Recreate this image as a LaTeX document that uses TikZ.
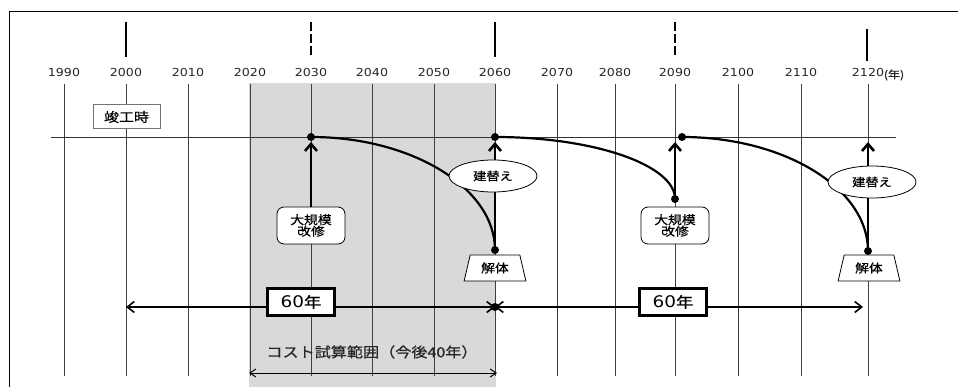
\documentclass[tikz,border=0pt]{standalone}
\usepackage{fontspec}
\setmainfont{DejaVu Sans}[FakeStretch=1.15]
\newfontfamily\jp{Noto Sans CJK JP}[FakeStretch=1.15, FakeBold=0.6]
\usetikzlibrary{arrows.meta, shapes.geometric}

\begin{document}
\begin{tikzpicture}[x=1pt, y=-1pt,
    range_fill/.style={fill=gray!30},
    frame_line/.style={black, line width=0.9pt},
    grid_line/.style={black!75, line width=0.8pt},
    base_line/.style={black!80, line width=0.7pt},
    top_mark/.style={black, line width=2pt},
    year_label/.style={font=\fontsize{11}{13}\selectfont, text=black!85},
    unit_label/.style={font=\jp\fontsize{10.5}{11}\selectfont, text=black!85},
    label_box/.style={draw=black!55, fill=white, line width=1pt, minimum width=67pt,
        minimum height=24pt, inner sep=0pt, font=\jp\fontsize{13}{13}\selectfont},
    kaishu_box/.style={draw, fill=white, rounded corners=7pt, line width=0.8pt,
        minimum width=68pt, minimum height=37pt, inner sep=0pt, align=center,
        font=\jp\fontsize{12}{11.5}\selectfont},
    kaitai_box/.style={trapezium, draw, fill=white, line width=0.8pt,
        trapezium left angle=73, trapezium right angle=73, trapezium stretches=true,
        minimum width=62pt, minimum height=26pt, inner sep=0pt,
        font=\jp\fontsize{12}{12}\selectfont},
    tatekae/.style={ellipse, draw, fill=white, line width=0.8pt, minimum width=88pt,
        minimum height=32pt, inner sep=0pt, font=\jp\fontsize{11.5}{11.5}\selectfont},
    span_box/.style={draw, fill=white, line width=2.5pt, minimum width=67pt,
        minimum height=27pt, inner sep=0pt, font=\fontsize{16}{16}\selectfont},
    range_label/.style={font=\jp\fontsize{14}{14}\selectfont, text=black!85},
    decay/.style={black, line width=2.2pt},
    event_arrow/.style={-{Straight Barb[length=7pt, width=12pt]}, line width=2.6pt, shorten >=5pt},
    span_arrow/.style={{Straight Barb[length=7pt, width=11pt]}-{Straight Barb[length=7pt, width=11pt]}, line width=1.6pt},
    range_arrow/.style={{Straight Barb[length=6pt, width=8pt]}-{Straight Barb[length=6pt, width=8pt]}, line width=1pt},
    dot/.style={circle, fill=black, inner sep=0pt, minimum size=8pt}
]
    \useasboundingbox (0,0) rectangle (958,387);
    % 背景
    \fill[range_fill] (249,83) rectangle (496,387);
    \draw[frame_line] (9,387) -- (9,11) -- (958,11);
    % 年の目盛り
    \foreach \yr/\x in {1990/64, 2000/126, 2010/188, 2020/250, 2030/311, 2040/372,
        2050/434, 2060/495, 2070/557, 2080/615, 2090/675, 2100/738, 2110/801, 2120/868}{
        \node[year_label] (y\yr) at (\x,72) {\yr};
        \coordinate (g\yr t) at (\x,84);
        \coordinate (g\yr b) at (\x,376);
        \draw[grid_line] (g\yr t) -- (g\yr b);
    }
    \node[unit_label] (unit) at (894,75) {(年)};
    % 基準線
    \coordinate (base_l) at (51,137);
    \coordinate (base_r) at (896,137);
    \draw[base_line] (base_l) -- (base_r);
    % 上の印
    \draw[top_mark] (126,22) -- ++(0,35);
    \draw[top_mark, dash pattern=on 9pt off 3pt] (311,22) -- ++(0,33);
    \draw[top_mark] (495,22) -- ++(0,35);
    \draw[top_mark, dash pattern=on 9pt off 3pt] (675,22) -- ++(0,33);
    \draw[top_mark] (867,29) -- ++(0,32);
    % 竣工時
    \node[label_box] (shunko) at (126.5,117) {竣工時};
    % 大規模改修と解体
    \node[kaishu_box] (kaishu1) at (311,225.5) {大規模\\改修};
    \node[kaishu_box] (kaishu2) at (675,225.5) {大規模\\改修};
    \node[kaitai_box] (kaitai1) at (495,268) {解体};
    \node[kaitai_box] (kaitai2) at (869,268) {解体};
    % 点
    \coordinate (p1) at (311,137);
    \coordinate (p2) at (495,137);
    \coordinate (p3) at (495,250);
    \coordinate (p4) at (675,199);
    \coordinate (p4t) at (675,137);
    \coordinate (p5) at (682,137);
    \coordinate (p6) at (868,251);
    \coordinate (p6t) at (868,137);
    % 劣化の曲線
    \draw[decay] (p1) .. controls +(101,0) and +(0,-62) .. (p3);
    \draw[decay] (p2) .. controls +(99,0) and +(0,-34) .. (p4);
    \draw[decay] (p5) .. controls +(102,0) and +(0,-63) .. (p6);
    % 矢印
    \draw[event_arrow] (kaishu1.north) -- (p1);
    \draw[event_arrow] (p3) -- (p2);
    \draw[event_arrow] (p4) -- (p4t);
    \draw[event_arrow] (p6) -- (p6t);
    % 建替え
    \node[tatekae] (tatekae1) at (493,176) {建替え};
    \node[tatekae] (tatekae2) at (872,182) {建替え};
    \foreach \p in {p1, p2, p3, p4, p5, p6}
        \node[dot] (\p d) at (\p) {};
    % 60年
    \coordinate (s1) at (126,307);
    \coordinate (s2) at (495,307);
    \coordinate (s3) at (863,307);
    \draw[span_arrow] (s1) -- (s2);
    \draw[span_arrow] (s2) -- (s3);
    \node[dot] (s2d) at (s2) {};
    \node[span_box] (span1) at (301,302) {60{\jp\fontsize{15}{15}\selectfont 年}};
    \node[span_box] (span2) at (673,302) {60{\jp\fontsize{15}{15}\selectfont 年}};
    % コスト試算範囲
    \node[range_label] (range) at (372,352) {コスト試算範囲（今後40年）};
    \coordinate (r1) at (249,373);
    \coordinate (r2) at (497,373);
    \draw[range_arrow] (r1) -- (r2);
\end{tikzpicture}
\end{document}
